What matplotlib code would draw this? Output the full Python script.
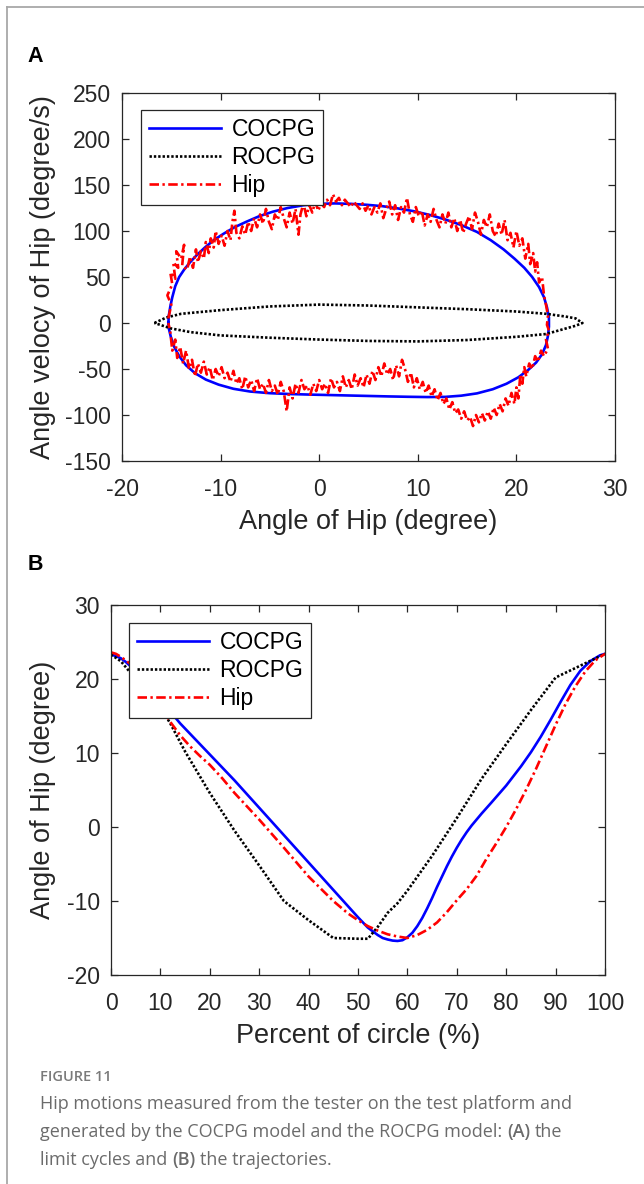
import matplotlib
matplotlib.use('Agg')
import matplotlib.pyplot as plt
from matplotlib.lines import Line2D

# ---------------- data: panel A (limit cycles) ----------------
cocpg_a_x = [-15.3, -15.25, -15.1, -14.9, -14.6, -14.2, -13.7, -13.1, -12.4, -11.6, -10.7, -9.7, -8.6,
             -7.4, -6.1, -4.7, -3.2, -1.6, 0.0, 1.6, 3.2, 4.8, 6.4, 8.0, 9.6, 11.2, 12.8, 14.4, 16.0,
             17.4, 18.7, 19.8, 20.8, 21.6, 22.3, 22.8, 23.1, 23.3, 23.3, 23.2, 23.0, 22.6, 22.0, 21.2,
             20.2, 19.0, 17.6, 16.0, 14.4, 12.8, 11.0, 9.0, 7.0, 5.0, 3.0, 1.0, -1.0, -3.0, -5.0, -7.0,
             -8.7, -10.2, -11.5, -12.6, -13.5, -14.2, -14.7, -15.05, -15.25, -15.3]
cocpg_a_y = [0, 8, 18, 28, 40, 50, 58, 66, 74, 82, 90, 97, 104,
             110, 116, 121, 125, 128, 129.5, 130, 129.5, 128.5, 127, 124.5, 121.5, 117.5, 112.5, 106.5, 99,
             90, 80, 70, 60, 50, 39, 28, 17, 6, -4, -14, -24, -34, -43, -51,
             -59, -66, -72, -76.5, -79, -80.3, -80.5, -80.2, -79.8, -79.3, -78.8, -78.3, -77.8, -77.2, -76.3,
             -74.5, -71.5, -67, -61.5, -54.5, -46, -36, -26, -15, -6, 0]

rocpg_a_x = [-16.7, -15.5, -14.0, -12.0, -10.0, -5.0, 0.0, 5.0, 10.0, 15.0, 20.0, 23.0, 25.0, 26.0, 26.7,
             26.0, 25.0, 23.0, 20.0, 15.0, 10.0, 5.0, 0.0, -5.0, -10.0, -13.0, -15.0, -16.7]
rocpg_a_y = [0, 6, 10, 12, 14, 18, 20, 19, 17, 15, 12.5, 10, 7, 5, 0,
             -3, -6, -12, -15, -18.5, -20, -19.5, -18, -16, -13.5, -10, -6, 0]

hip_a_x = [-15.3, -15.0, -15.4, -14.9, -15.1, -14.6, -14.8, -14.3, -14.5, -14.0, -13.7, -13.9, -13.4, -13.1,
           -12.8, -12.5, -12.3, -12.0, -11.7, -11.5, -11.2, -11.0, -10.7, -10.5, -10.2, -9.9, -9.6, -9.3,
           -9.0, -8.8, -8.6, -8.4, -8.1, -7.8, -7.5, -7.2, -6.9, -6.6, -6.3, -6.0, -5.7, -5.4, -5.1, -4.8,
           -4.5, -4.2, -3.9, -3.6, -3.3, -3.0, -2.7, -2.4, -2.1, -1.9, -1.6, -1.3, -1.0, -0.7, -0.4, -0.1,
           0.2, 0.5, 0.8, 1.1, 1.4, 1.7, 2.0, 2.3, 2.6, 2.9, 3.2, 3.5, 3.8, 4.1, 4.4, 4.7, 5.0, 5.3, 5.6,
           5.9, 6.2, 6.5, 6.8, 7.1, 7.4, 7.7, 8.0, 8.3, 8.6, 8.9, 9.2, 9.5, 9.8, 10.1, 10.4, 10.7, 11.0,
           11.3, 11.6, 11.9, 12.2, 12.5, 12.8, 13.1, 13.4, 13.7, 14.0, 14.3, 14.6, 14.9, 15.2, 15.5, 15.8,
           16.1, 16.4, 16.7, 17.0, 17.3, 17.6, 17.9, 18.2, 18.5, 18.8, 19.1, 19.4, 19.7, 20.0, 20.3, 20.6,
           20.9, 21.2, 21.4, 21.7, 21.9, 22.1, 22.3, 22.6, 22.8, 23.0, 23.2, 23.1,
           23.3, 23.0, 23.2, 22.8, 22.5, 22.2, 21.9, 21.6, 21.3, 21.0, 20.8, 20.6, 20.4, 20.2, 20.0, 19.8,
           19.5, 19.2, 18.9, 18.6, 18.3, 18.0, 17.7, 17.4, 17.1, 16.8, 16.5, 16.2, 15.9, 15.6, 15.3, 15.0,
           14.7, 14.4, 14.1, 13.8, 13.5, 13.2, 12.9, 12.6, 12.3, 12.0, 11.7, 11.4, 11.1, 10.8, 10.5, 10.2,
           9.9, 9.6, 9.3, 9.0, 8.7, 8.4, 8.1, 7.8, 7.5, 7.2, 6.9, 6.6, 6.3, 6.0, 5.7, 5.4, 5.1, 4.8, 4.5,
           4.2, 3.9, 3.6, 3.3, 3.0, 2.7, 2.4, 2.1, 1.8, 1.5, 1.2, 0.9, 0.6, 0.3, 0.0, -0.3, -0.6, -0.9,
           -1.2, -1.5, -1.8, -2.1, -2.4, -2.7, -3.0, -3.3, -3.6, -3.9, -4.2, -4.5, -4.8, -5.1, -5.4, -5.7,
           -6.0, -6.3, -6.6, -6.9, -7.2, -7.5, -7.8, -8.1, -8.4, -8.7, -9.0, -9.3, -9.6, -9.9, -10.2, -10.5,
           -10.8, -11.1, -11.4, -11.7, -12.0, -12.3, -12.6, -12.9, -13.2, -13.5, -13.8, -14.1, -14.4, -14.6,
           -14.9, -15.1, -15.3]
hip_a_y = [5, 20, 30, 42, 55, 48, 66, 60, 78, 70, 85, 62, 58, 72,
           60, 80, 66, 78, 70, 88, 76, 92, 82, 100, 86, 95, 84, 100,
           90, 110, 122, 98, 92, 105, 96, 110, 100, 114, 104, 118, 108, 124, 110, 102,
           118, 112, 126, 114, 104, 120, 108, 124, 96, 118, 130, 116, 128, 120, 132, 122,
           130, 126, 134, 128, 140, 132, 136, 128, 134, 130, 126, 132, 128, 124, 130, 122, 128, 118, 126,
           120, 130, 114, 124, 132, 118, 128, 112, 126, 120, 136, 118, 110, 126, 116, 122, 106, 118,
           110, 124, 112, 104, 118, 108, 120, 104, 114, 100, 112, 98, 108, 116, 102, 120,
           110, 96, 112, 104, 118, 100, 94, 108, 96, 112, 90, 98, 82, 100, 84, 92,
           70, 86, 64, 76, 56, 66, 44, 50, 30, 20, 8, -2,
           -8, -18, -28, -36, -30, -42, -36, -50, -44, -58, -48, -66, -56, -82, -70, -88,
           -76, -90, -82, -96, -88, -100, -92, -104, -96, -106, -98, -108, -100, -112, -102, -106,
           -96, -104, -94, -98, -86, -94, -82, -88, -76, -84, -72, -80, -68, -76, -64, -72,
           -60, -70, -54, -64, -50, -40, -58, -46, -62, -50, -56, -44, -58, -48, -62, -52, -66, -56, -70,
           -60, -68, -56, -72, -62, -70, -58, -74, -64, -70, -60, -76, -66, -72, -62, -74, -66, -78,
           -68, -72, -62, -76, -66, -82, -70, -96, -74, -64, -78, -68, -74, -62, -76, -66,
           -72, -60, -74, -62, -70, -58, -72, -60, -66, -52, -64, -54, -60, -48, -58, -50,
           -62, -48, -56, -42, -54, -44, -58, -40, -50, -30, -44, -26, -38, -18,
           -30, -10, 0]

# ---------------- data: panel B (trajectories) ----------------
cocpg_b_x = [0, 1, 2, 3, 4, 5, 6, 8, 10, 12, 14, 16, 18, 20, 25, 30, 35, 40, 45, 50, 52, 54, 55, 56,
             57, 58, 59, 60, 61, 62, 63, 64, 65, 66, 67, 68, 69, 70, 71, 72, 73, 75, 77, 80, 83, 85, 87,
             89, 91, 93, 95, 97, 99, 100]
cocpg_b_y = [23.3, 23.1, 22.8, 22.3, 21.7, 21.0, 20.3, 18.8, 17.2, 15.6, 14.0, 12.6, 11.2, 9.8, 6.3,
             2.6, -1.1, -4.8, -8.5, -12.2, -13.6, -14.6, -15.0, -15.2, -15.35, -15.4, -15.3, -14.9, -14.3,
             -13.4, -12.3, -11.0, -9.6, -8.1, -6.7, -5.3, -4.0, -2.8, -1.7, -0.7, 0.2, 1.8, 3.3, 5.6, 8.2,
             10.1, 12.2, 14.5, 16.9, 19.2, 21.1, 22.4, 23.2, 23.4]

rocpg_b_x = [0, 2, 3.5, 6, 8, 10, 12, 15, 20, 25, 30, 35, 40, 45, 50, 52, 54, 56, 58, 60, 65, 70,
             75, 80, 85, 90, 95, 100]
rocpg_b_y = [23.3, 22.4, 21.2, 19.6, 18.0, 16.2, 14.0, 10.2, 4.6, -0.5, -5.2, -10.0, -12.6, -15.0,
             -15.1, -15.1, -13.5, -11.6, -10.3, -8.6, -3.9, 1.2, 6.5, 11.2, 15.8, 20.2, 21.8, 23.4]

hip_b_x = [0, 1, 2, 3, 4, 5, 6, 8, 10, 12, 14, 16, 18, 20, 22.5, 25, 30, 35, 40, 45, 48, 50, 52, 54,
           56, 58, 60, 62, 64, 66, 68, 70, 72, 74, 76, 78, 80, 82, 84, 86, 88, 90, 92, 94, 96, 98, 100]
hip_b_y = [23.6, 23.4, 23.0, 22.5, 22.0, 21.3, 20.5, 18.6, 16.4, 14.2, 12.4, 10.9, 9.6, 8.4, 6.6,
           4.6, 1.0, -2.8, -6.7, -10.0, -11.7, -12.6, -13.4, -14.0, -14.5, -14.8, -15.0, -14.6, -13.9,
           -12.9, -11.5, -9.9, -8.4, -6.6, -4.3, -2.2, 0.0, 2.4, 5.0, 7.8, 10.8, 13.8, 16.6, 19.0, 21.0,
           22.5, 23.4]

series_names = ['COCPG', 'ROCPG', 'Hip']
a_xticks = [-20, -10, 0, 10, 20, 30]
a_yticks = [-150, -100, -50, 0, 50, 100, 150, 200, 250]
b_xticks = [0, 10, 20, 30, 40, 50, 60, 70, 80, 90, 100]
b_yticks = [-20, -10, 0, 10, 20, 30]

# ---------------- styling ----------------
plt.rcParams['font.family'] = ['Liberation Sans', 'DejaVu Sans']
W, H = 644, 1184
INK = '#262626'
fig = plt.figure(figsize=(W / 100, H / 100), dpi=100)
fig.patch.set_facecolor('white')


def rect(l, t, r, b):
    return [l / W, 1 - b / H, (r - l) / W, (b - t) / H]


styles = [dict(color='#0000ff', lw=1.9, ls='-'),
          dict(color='black', lw=1.9, ls=(0, (0.9, 0.75))),
          dict(color='#ff0000', lw=1.9, ls=(0, (3.6, 1.3, 0.9, 1.3)))]


def style_axes(ax, xt, yt, xl, yl, xlab, ylab):
    ax.set_xlim(*xl)
    ax.set_ylim(*yl)
    ax.set_xticks(xt)
    ax.set_yticks(yt)
    ax.set_xticklabels([str(v) for v in xt])
    ax.set_yticklabels([str(v) for v in yt])
    ax.tick_params(direction='in', top=True, right=True, length=5, width=0.9,
                   colors=INK, labelsize=16.5)
    ax.tick_params(axis='x', pad=12)
    ax.tick_params(axis='y', pad=8)
    for s in ax.spines.values():
        s.set_color(INK)
        s.set_linewidth(0.9)
    ax.set_xlabel(xlab, fontsize=19.5, color=INK, labelpad=6)
    ax.set_ylabel(ylab, fontsize=19.5, color=INK, labelpad=6)


# Panel A
axA = fig.add_axes(rect(122, 93, 615, 461))
axA.plot(cocpg_a_x, cocpg_a_y, label=series_names[0], **styles[0])
axA.plot(rocpg_a_x, rocpg_a_y, label=series_names[1], **styles[1])
axA.plot(hip_a_x, hip_a_y, label=series_names[2], **styles[2])
style_axes(axA, a_xticks, a_yticks, (-20, 30), (-150, 250),
           'Angle of Hip (degree)', 'Angle velocy of Hip (degree/s)')

# Panel B
axB = fig.add_axes(rect(111, 605, 605, 975))
axB.plot(cocpg_b_x, cocpg_b_y, label=series_names[0], **styles[0])
axB.plot(rocpg_b_x, rocpg_b_y, label=series_names[1], **styles[1])
axB.plot(hip_b_x, hip_b_y, label=series_names[2], **styles[2])
style_axes(axB, b_xticks, b_yticks, (0, 100), (-20, 30),
           'Percent of circle (%)', 'Angle of Hip (degree)')

for ax, (lx, ly) in [(axA, ((141 - 122) / 493, (461 - 110) / 368)),
                     (axB, ((129 - 111) / 494, (975 - 623) / 370))]:
    leg = ax.legend(loc='upper left', bbox_to_anchor=(lx, ly), borderaxespad=0,
                    fontsize=16.5, frameon=True, fancybox=False, framealpha=1,
                    edgecolor=INK, handlelength=3.15, handletextpad=0.45,
                    labelspacing=0.22, borderpad=0.35)
    leg.get_frame().set_linewidth(0.9)
    for t in leg.get_texts():
        t.set_color('black')

# y labels anchored at the same x position
axA.yaxis.set_label_coords((56 - 122) / 493, 0.5)
axB.yaxis.set_label_coords((56 - 111) / 494, 0.5)

# Panel letters
fig.text(35 / W, 1 - 57 / H, 'A', fontsize=15.5, fontweight='bold', ha='center', va='center', color='black')
fig.text(35 / W, 1 - 565 / H, 'B', fontsize=15.5, fontweight='bold', ha='center', va='center', color='black')

# Frame (light grey, open to right/bottom)
fig.add_artist(Line2D([7 / W, 7 / W], [0, 1 - 7 / H], transform=fig.transFigure, color='#a8a8a8', lw=1.3))
fig.add_artist(Line2D([7 / W, 1], [1 - 7 / H, 1 - 7 / H], transform=fig.transFigure, color='#a8a8a8', lw=1.3))

# Caption
CAP = '#6b6b6b'
CAP_SIZE = 13
cap_font = ['Open Sans', 'DejaVu Sans']
fig.text(40 / W, 1 - 1081 / H, 'FIGURE 11', fontsize=10.5, fontweight='semibold', family=cap_font,
         color='#7a7a7a', va='baseline')

renderer = fig.canvas.get_renderer()


def text_width(s, weight):
    t = fig.text(0, 0, s, fontsize=CAP_SIZE, family=cap_font, fontweight=weight)
    w = t.get_window_extent(renderer).width
    t.remove()
    return w


space_w = text_width('a a', 'normal') - text_width('aa', 'normal')


def draw_runs(x, y, runs):
    for s, wgt in runs:
        t = fig.text(x / W, 1 - y / H, s, fontsize=CAP_SIZE, family=cap_font, fontweight=wgt,
                     color=CAP, va='baseline')
        x += t.get_window_extent(renderer).width + space_w


draw_runs(40, 1109, [('Hip motions measured from the tester on the test platform and', 'normal')])
draw_runs(40, 1137, [('generated by the COCPG model and the ROCPG model:', 'normal'), ('(A)', 'semibold'),
                     ('the', 'normal')])
draw_runs(40, 1165, [('limit cycles and', 'normal'), ('(B)', 'semibold'), ('the trajectories.', 'normal')])

fig.savefig('out.png', dpi=100, facecolor='white')
